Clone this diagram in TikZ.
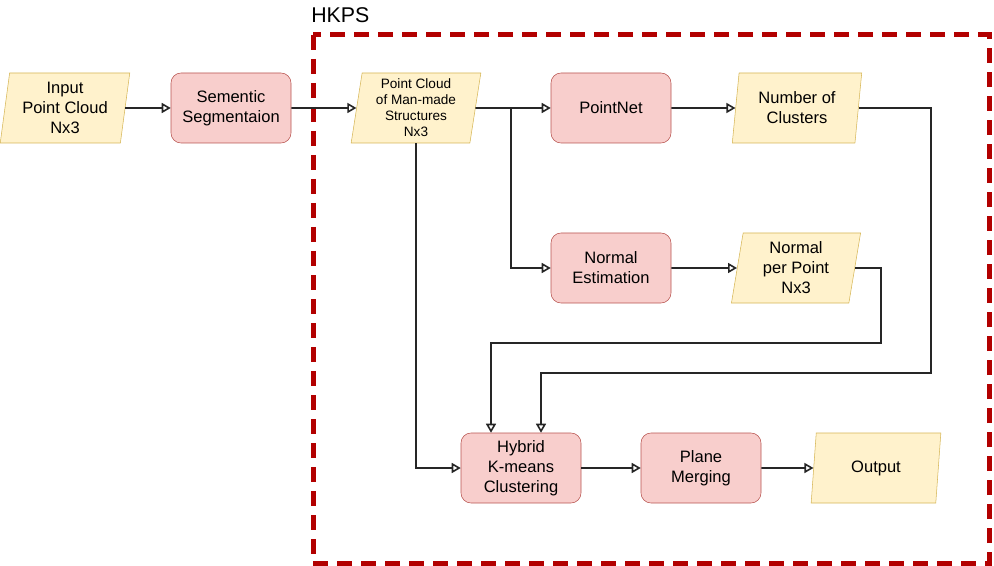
\documentclass[tikz,border=0pt]{standalone}
\usepackage{fontspec}
\setmainfont{Liberation Sans}
\definecolor{procfill}{HTML}{F8CECC}
\definecolor{procline}{HTML}{B85450}
\definecolor{datafill}{HTML}{FFF2CC}
\definecolor{dataline}{HTML}{D6B656}
\definecolor{hkpsred}{HTML}{B20000}
\usepackage{tikz}
\usetikzlibrary{shapes, arrows.meta, positioning}

\begin{document}
\begin{tikzpicture}[
  x=0.75pt, y=-0.75pt,
  procbox/.style={draw=procline, fill=procfill, rounded corners=7.5pt, minimum width=90pt, minimum height=52.5pt, align=center, inner sep=0pt, font=\fontsize{12.4}{15}\selectfont},
  databox/.style={trapezium, trapezium left angle=82, trapezium right angle=98, trapezium stretches=true, draw=dataline, fill=datafill, minimum width=97.5pt, minimum height=52.5pt, align=center, inner sep=0pt, font=\fontsize{12.4}{15}\selectfont},
  arr/.style={-{Triangle[open, length=6.75pt, width=7.5pt]}, line width=1.2pt, black!85}
]
  \useasboundingbox (0,0) rectangle (994,566);
  \draw[hkpsred, line width=3.75pt, dash pattern=on 11pt off 7pt] (313,35) rectangle (989,563);
  \node[anchor=west, font=\fontsize{16}{18}\selectfont, inner sep=0pt] (hkps) at (311,15) {HKPS};

  \node[databox] (input) at (65,108) {Input\\Point Cloud\\Nx3};
  \node[procbox] (semseg) at (231,108) {Sementic\\Segmentaion};
  \node[databox, font=\fontsize{10.2}{12}\selectfont] (manmade) at (416,108) {Point Cloud\\of Man-made\\Structures\\Nx3};
  \node[procbox] (pointnet) at (611,108) {PointNet};
  \node[databox] (clusters) at (797,108) {Number of\\Clusters};
  \node[procbox] (normest) at (611,268) {Normal\\Estimation};
  \node[databox] (normals) at (796,268) {Normal\\per Point\\Nx3};
  \node[procbox] (hybrid) at (521,468) {Hybrid\\K-means\\Clustering};
  \node[procbox] (merging) at (701,468) {Plane\\Merging};
  \node[databox] (output) at (876,468) {Output};

  \coordinate (split) at (511,108);
  \coordinate (c1) at (931,373);
  \coordinate (c2) at (541,373);
  \coordinate (n1) at (881,343);
  \coordinate (n2) at (491,343);

  \draw[arr] (input) -- (semseg);
  \draw[arr] (semseg) -- (manmade);
  \draw[arr] (manmade) -- (pointnet);
  \draw[arr] (manmade.east) -- (split) |- (normest);
  \draw[arr] (manmade.south) |- (hybrid);
  \draw[arr] (pointnet) -- (clusters);
  \draw[arr] (normest) -- (normals);
  \draw[arr] (clusters) -| (c1) -- (c2) -- (c2 |- hybrid.north);
  \draw[arr] (normals) -| (n1) -- (n2) -- (n2 |- hybrid.north);
  \draw[arr] (hybrid) -- (merging);
  \draw[arr] (merging) -- (output);
\end{tikzpicture}
\end{document}
